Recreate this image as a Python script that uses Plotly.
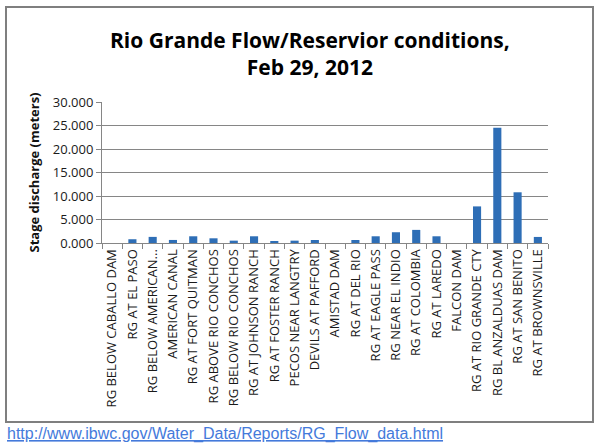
import plotly.graph_objects as go

# river stations along the Rio Grande, upstream to downstream
stations = [
    "RG BELOW CABALLO DAM", "RG AT EL PASO", "RG BELOW AMERICAN...", "AMERICAN CANAL",
    "RG AT FORT QUITMAN", "RG ABOVE RIO CONCHOS", "RG BELOW RIO CONCHOS",
    "RG AT JOHNSON RANCH", "RG AT FOSTER RANCH", "PECOS NEAR LANGTRY",
    "DEVILS AT PAFFORD", "AMISTAD DAM", "RG AT DEL RIO", "RG AT EAGLE PASS",
    "RG NEAR EL INDIO", "RG AT COLOMBIA", "RG AT LAREDO", "FALCON DAM",
    "RG AT RIO GRANDE CTY", "RG BL ANZALDUAS DAM", "RG AT SAN BENITO",
    "RG AT BROWNSVILLE",
]
stage_m = [
    0.0, 0.8, 1.3, 0.65, 1.43, 1.0, 0.5, 1.43, 0.36, 0.5, 0.64,
    0.0, 0.64, 1.43, 2.29, 2.79, 1.43, 0.0, 7.79, 24.5, 10.79, 1.29,
]
y_ticks = [0, 5, 10, 15, 20, 25, 30]

W, H = 600, 448
L, R, T, B = 102, 52, 102, 205
pw, ph = W - L - R, H - T - B


def px_x(x):
    return (x - L) / pw


def px_y(y):
    return (H - B - y) / ph


fig = go.Figure(go.Bar(x=stations, y=stage_m, marker_color="#2E6EB6",
                       marker_line_width=0))

axis_font = dict(family="Open Sans, Arial", size=13, color="#1a1a1a")

fig.update_layout(
    width=W, height=H,
    margin=dict(l=L, r=R, t=T, b=B, autoexpand=False),
    paper_bgcolor="white", plot_bgcolor="white",
    bargap=0.6, showlegend=False,
    xaxis=dict(
        type="category", tickangle=-90, tickfont=axis_font, automargin=False,
        ticks="outside", tickson="boundaries", ticklen=5, tickcolor="#868686",
        showline=True, linecolor="#868686", showgrid=False,
    ),
    yaxis=dict(
        range=[0, 30], tickvals=y_ticks, tickformat=".3f", tickfont=axis_font,
        automargin=False,
        ticks="outside", ticklen=5, tickcolor="#868686",
        showline=True, linecolor="#868686",
        showgrid=True, gridcolor="#868686", gridwidth=1, zeroline=False,
        title=dict(text="<b>Stage discharge (meters)</b>", standoff=10,
                   font=dict(family="Open Sans, Arial", size=13, color="#111")),
    ),
)

# two-line title
fig.add_annotation(
    text="<b>Rio Grande Flow/Reservior conditions,<br>Feb 29, 2012</b>",
    xref="paper", yref="paper", x=px_x(310), y=px_y(53),
    xanchor="center", yanchor="middle", showarrow=False,
    font=dict(family="Open Sans, Arial", size=21, color="black"),
)

# outer chart frame
fig.add_shape(type="rect", xref="paper", yref="paper",
              x0=px_x(6), x1=px_x(593), y0=px_y(422), y1=px_y(7),
              line=dict(color="#7F7F7F", width=2))

# source link under the frame
fig.add_annotation(
    text='<a href="http://www.ibwc.gov/Water_Data/Reports/RG_Flow_data.html">'
         '<u>http://www.ibwc.gov/Water_Data/Reports/RG_Flow_data.html</u></a>',
    xref="paper", yref="paper", x=px_x(5), y=px_y(434),
    xanchor="left", yanchor="middle", showarrow=False,
    font=dict(family="Liberation Sans, Arial", size=16, color="#0000EE"),
)

# drop the default page margin so the figure sits at the window's corner
fig.write_html("out.html", config={"displayModeBar": False},
               post_script="document.body.style.margin='0px';")
